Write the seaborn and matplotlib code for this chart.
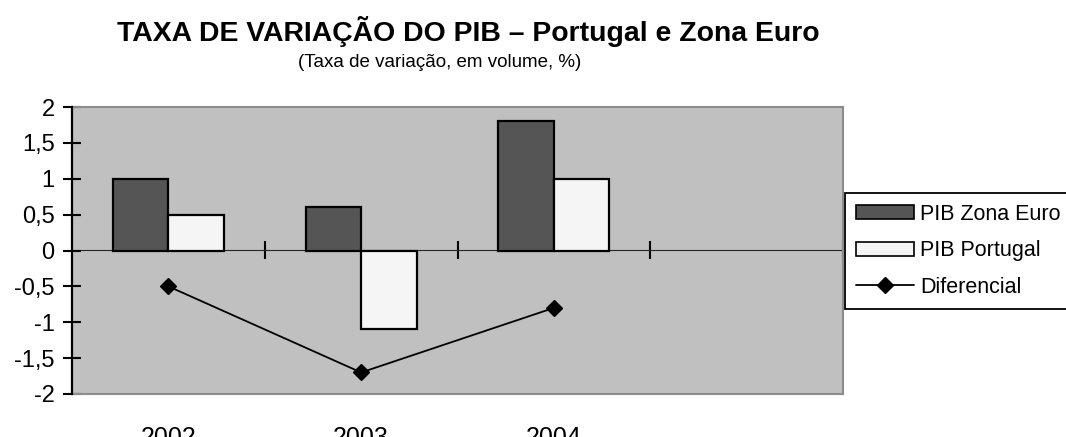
import matplotlib
matplotlib.use('Agg')
import matplotlib.pyplot as plt
import pandas as pd
import seaborn as sns
from matplotlib.patches import Patch
from matplotlib.lines import Line2D

# Data
years = ['2002', '2003', '2004']
pib_zona_euro = [1.0, 0.6, 1.8]
pib_portugal = [0.5, -1.1, 1.0]
diferencial = [-0.5, -1.7, -0.8]

series_names = ['PIB Zona Euro', 'PIB Portugal']
series_colors = ['#555555', '#F5F5F5']

df = pd.DataFrame({
    'ano': years * 2,
    'serie': [series_names[0]] * 3 + [series_names[1]] * 3,
    'valor': pib_zona_euro + pib_portugal,
})

sns.set_style('white')
plt.rcParams['font.family'] = ['Liberation Sans', 'DejaVu Sans']
plt.rcParams['text.color'] = 'black'
plt.rcParams['xtick.color'] = 'black'
plt.rcParams['ytick.color'] = 'black'
plt.rcParams['xtick.labelcolor'] = 'black'
plt.rcParams['ytick.labelcolor'] = 'black'

fig = plt.figure(figsize=(10.66, 4.37), dpi=100)
ax = fig.add_axes([72 / 1066, 1 - 394 / 437, (843 - 72) / 1066, (394 - 107) / 437])
ax.set_facecolor('#C0C0C0')

sns.barplot(data=df, x='ano', y='valor', hue='serie', order=years,
            hue_order=series_names, palette=series_colors, width=0.575,
            edgecolor='black', linewidth=1.6, saturation=1, legend=False, ax=ax)
sns.pointplot(x=years, y=diferencial, order=years, color='black', markers='D',
              markersize=8, linewidth=1.3, ax=ax)

ax.set_xlim(-0.5, 3.5)
ax.set_ylim(-2, 2)
ax.set_xlabel('')
ax.set_ylabel('')

yt = [2, 1.5, 1, 0.5, 0, -0.5, -1, -1.5, -2]
ax.set_yticks(yt)
ax.set_yticklabels([f'{v:g}'.replace('.', ',') for v in yt], fontsize=17)
ax.tick_params(axis='y', direction='inout', length=13, width=1.5, color='black', pad=6, left=True)
ax.tick_params(axis='x', length=0, pad=23, labelsize=18)

for side in ['top', 'right', 'bottom']:
    ax.spines[side].set_color('#8C8C8C')
    ax.spines[side].set_linewidth(1.5)
ax.spines['left'].set_color('black')
ax.spines['left'].set_linewidth(1.6)
ax.spines['left'].set_zorder(5)

# category axis crossing at zero
zero_axis = ax.secondary_xaxis(0.5)
zero_axis.set_xticks([0.5, 1.5, 2.5, 3.5])
zero_axis.set_xticklabels([])
zero_axis.tick_params(direction='inout', length=13, width=1.5, color='black',
                      labelbottom=False, labeltop=False)
zero_axis.spines['bottom'].set_color('black')
zero_axis.spines['bottom'].set_linewidth(1.6)

fig.text(0.439, 0.927, 'TAXA DE VARIAÇÃO DO PIB – Portugal e Zona Euro',
         ha='center', va='center', fontsize=20.4, fontweight='bold')
fig.text(0.412, 0.858, '(Taxa de variação, em volume, %)',
         ha='center', va='center', fontsize=13.5)

handles = [
    Patch(facecolor=series_colors[0], edgecolor='black', linewidth=1.2),
    Patch(facecolor=series_colors[1], edgecolor='black', linewidth=1.2),
    Line2D([0], [0], color='black', marker='D', markersize=8, linewidth=1.3),
]
leg = fig.legend(handles, series_names + ['Diferencial'], loc='upper left',
                 bbox_to_anchor=(845 / 1066, 1 - 193 / 437), fontsize=15.5,
                 frameon=True, fancybox=False, framealpha=1, edgecolor='black',
                 handlelength=2.7, handleheight=0.62, handletextpad=0.3,
                 labelspacing=0.72, borderpad=0.5, borderaxespad=0)
leg.get_frame().set_linewidth(1.3)

fig.savefig('out.png', dpi=100)
